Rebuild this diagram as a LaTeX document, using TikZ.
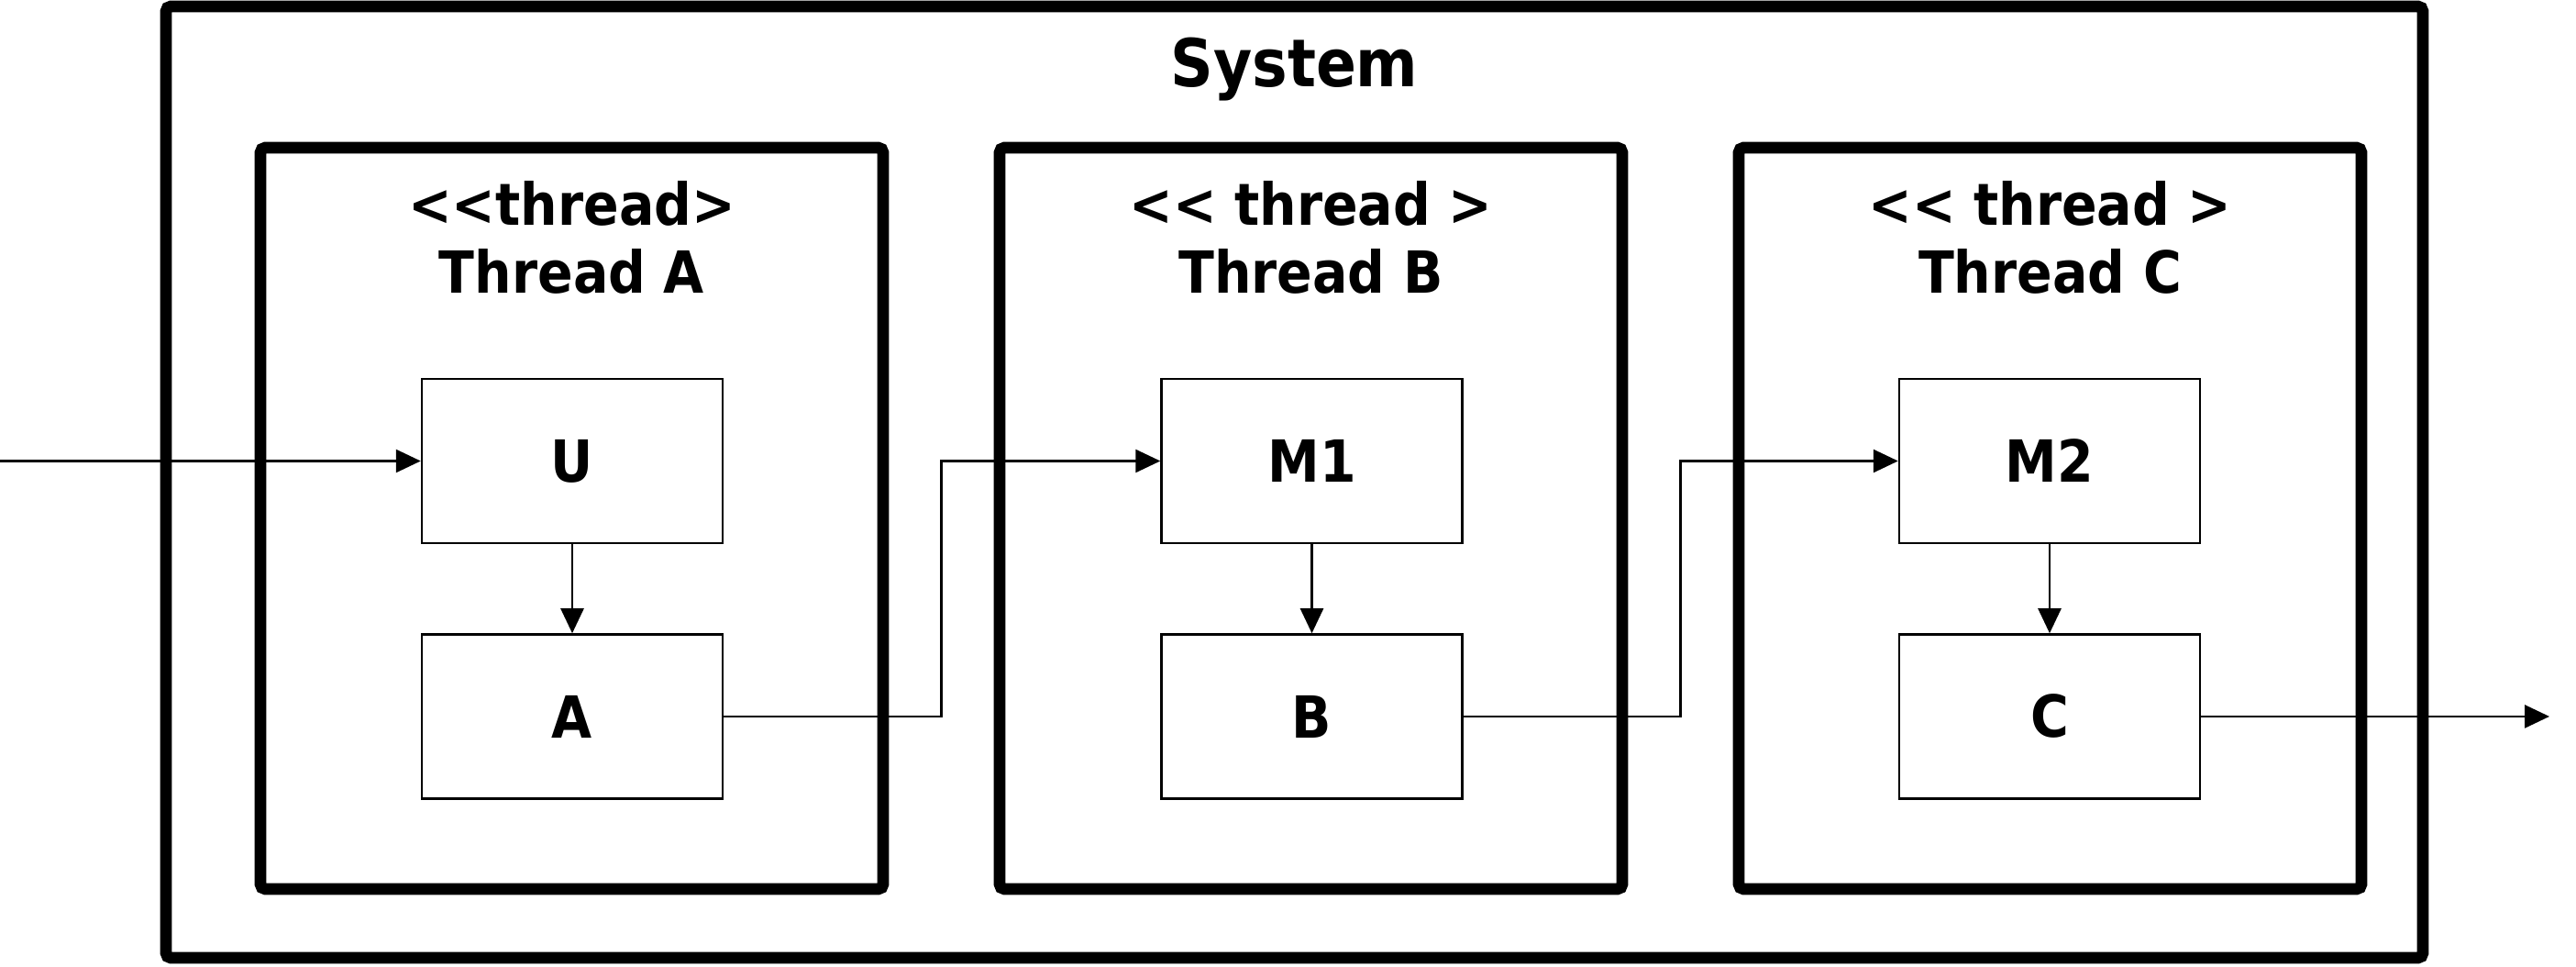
\documentclass[tikz,border=0pt]{standalone}
\usepackage{fontspec}
\setmainfont{DejaVu Sans Condensed}
\usetikzlibrary{positioning,arrows.meta,calc}

\begin{document}
\begin{tikzpicture}
    \tikzstyle{every node}=[font=\bfseries\fontsize{18}{21}\selectfont, inner sep=0pt, align=center]
    \tikzstyle{systembox}=[draw, line width=3.6pt, rounded corners=1.5pt, minimum width=24.61cm, minimum height=10.37cm]
    \tikzstyle{threadbox}=[draw, line width=3.6pt, rounded corners=1.5pt, minimum width=6.79cm, minimum height=8.08cm]
    \tikzstyle{taskbox}=[draw, line width=0.7pt, minimum width=3.28cm, minimum height=1.79cm]
    \tikzstyle{flow}=[line width=0.7pt, -{Triangle[length=0.27cm, width=0.25cm]}]
    \useasboundingbox (0,0) rectangle (28.09,10.53);
    % system and threads
    \node [systembox] (sys) at (14.115,5.275) {};
    \node [below=0.4cm of sys.north, font=\bfseries\fontsize{20.5}{24}\selectfont] (systitle) {System};
    \node [threadbox] (thrA) at (6.235,4.88) {};
    \node [threadbox] (thrB) at (14.295,4.88) {};
    \node [threadbox] (thrC) at (22.355,4.88) {};
    \node [below=0.42cm of thrA.north] (titleA) {<{}<thread>\\Thread A};
    \node [below=0.42cm of thrB.north] (titleB) {<{}< thread >\\Thread B};
    \node [below=0.42cm of thrC.north] (titleC) {<{}< thread >\\Thread C};
    % tasks
    \node [taskbox] (u) at (6.24,5.505) {U};
    \node [taskbox, below=0.97cm of u] (a) {A};
    \node [taskbox] (m1) at (14.305,5.505) {M1};
    \node [taskbox, below=0.97cm of m1] (b) {B};
    \node [taskbox] (m2) at (22.35,5.505) {M2};
    \node [taskbox, below=0.97cm of m2] (c) {C};
    % connectors
    \coordinate (in) at (0,5.505);
    \coordinate (out) at (27.80,0);
    \draw [flow] (in) -- (u.west);
    \draw [flow] (u) -- (a);
    \draw [flow] (m1) -- (b);
    \draw [flow] (m2) -- (c);
    \draw [flow] (a.east) -| ($(thrA.east)!0.5!(thrB.west)$) |- (m1.west);
    \draw [flow] (b.east) -| ($(thrB.east)!0.5!(thrC.west)$) |- (m2.west);
    \draw [flow] (c.east) -- (c.east -| out);
\end{tikzpicture}
\end{document}
